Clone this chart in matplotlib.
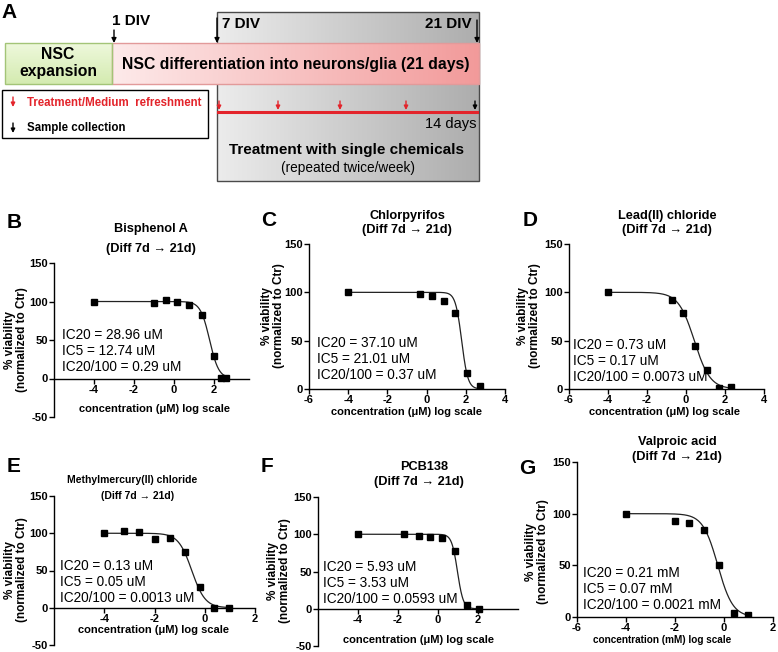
import numpy as np
import matplotlib
matplotlib.use('Agg')
from matplotlib import pyplot as plt
from matplotlib.patches import Rectangle
from matplotlib.colors import LinearSegmentedColormap

plt.rcParams['font.family'] = ['Liberation Sans', 'DejaVu Sans']
plt.rcParams['axes.unicode_minus'] = False

W, H = 778, 652

# ---- dose-response points (log10 conc, % viability)
bpa_x = [-4, -1.0, -0.42, 0.17, 0.75, 1.42, 2.0, 2.33, 2.58]
bpa_y = [100, 98, 102, 99.5, 95, 83, 29.5, 0.5, 0.5]
cpf_x = [-4, -0.35, 0.29, 0.87, 1.46, 2.08, 2.70]
cpf_y = [100, 98, 96, 91, 78.5, 17, 3]
pb_x = [-4, -0.73, -0.14, 0.48, 1.06, 1.70, 2.29]
pb_y = [100, 92, 79, 45, 19.5, 1, 2.5]
mehg_x = [-4, -3.23, -2.63, -2.0, -1.4, -0.8, -0.2, 0.37, 0.97]
mehg_y = [100, 103.5, 101.5, 92.5, 94, 75.5, 28.5, 0, 0]
pcb_x = [-4, -1.72, -0.97, -0.38, 0.2, 0.84, 1.46, 2.04]
pcb_y = [100, 100, 97, 96, 94.5, 78, 4.5, 0]
vpa_x = [-4, -2.0, -1.41, -0.81, -0.2, 0.41, 0.99]
vpa_y = [100, 93, 91, 84.5, 50.5, 4, 1.5]

names = ['Bisphenol A', 'Chlorpyrifos', 'Lead(II) chloride',
         'Methylmercury(II) chloride', 'PCB138', 'Valproic acid']
letters = ['B', 'C', 'D', 'E', 'F', 'G']
ic20 = [28.96, 37.10, 0.73, 0.13, 5.93, 0.21]
ic5 = [12.74, 21.01, 0.17, 0.05, 3.53, 0.07]
ic20_100 = ['0.29', '0.37', '0.0073', '0.0013', '0.0593', '0.0021']
units = ['uM', 'uM', 'uM', 'uM', 'uM', 'mM']
xdata = [bpa_x, cpf_x, pb_x, mehg_x, pcb_x, vpa_x]
ydata = [bpa_y, cpf_y, pb_y, mehg_y, pcb_y, vpa_y]

# treatment schedule markers in panel A (pixel x)
treat_x = [219, 278, 340, 406]
sample_x = [475]


def hill_curve(x, c20, c5):
    # 4-parameter logistic (top 100, bottom 0) that passes through IC20 and IC5
    lo20, lo5 = np.log10(c20), np.log10(c5)
    slope = np.log10(0.25 * 19) / (lo20 - lo5)
    logic50 = lo20 + np.log10(4) / slope
    return 100 / (1 + 10 ** (slope * (x - logic50)))


fig = plt.figure(figsize=(W / 100, H / 100), dpi=100)
canvas = fig.add_axes([0, 0, 1, 1], zorder=0)
canvas.set_xlim(0, W)
canvas.set_ylim(H, 0)
canvas.axis('off')


def gradient_box(l, t, r, b, c0, c1, edge, z, horizontal=True):
    cmap = LinearSegmentedColormap.from_list('g', [c0, c1])
    g = np.linspace(0, 1, 256)
    img = g[None, :] if horizontal else g[:, None]
    canvas.imshow(img, extent=(l, r, b, t), cmap=cmap, aspect='auto',
                  zorder=z, interpolation='bilinear')
    canvas.add_patch(Rectangle((l, t), r - l, b - t, fill=False,
                               edgecolor=edge, lw=1, zorder=z + 0.1))


def down_arrow(x, y0, y1, color, ms=7):
    canvas.annotate('', xy=(x, y1), xytext=(x, y0),
                    arrowprops=dict(arrowstyle='-|>', color=color, lw=1,
                                    mutation_scale=ms, shrinkA=0, shrinkB=0),
                    zorder=6)


# ---- panel A: timeline diagram
gradient_box(217, 12, 479, 181, '#ececec', '#adadad', '#4a4a4a', 1)
gradient_box(112, 43, 479, 84, '#fdeaea', '#f29a9a', '#e29a9a', 2)
gradient_box(5, 43, 112, 84, '#eef8dc', '#d4ebb0', '#a3c477', 2, horizontal=False)
canvas.add_patch(Rectangle((2, 90), 206, 48, facecolor='white',
                           edgecolor='black', lw=1, zorder=3))
canvas.set_xlim(0, W)
canvas.set_ylim(H, 0)

canvas.text(1, 3, 'A', fontsize=15, fontweight='bold', va='top', zorder=7)
canvas.text(58, 63, 'NSC\nexpansion', fontsize=11.3, fontweight='bold',
            ha='center', va='center', linespacing=1.1, zorder=7)
canvas.text(296, 65, 'NSC differentiation into neurons/glia (21 days)',
            fontsize=11.3, fontweight='bold', ha='center', va='center', zorder=7)
canvas.text(112, 28, '1 DIV', fontsize=11, fontweight='bold', va='bottom', zorder=7)
canvas.text(222, 31, '7 DIV', fontsize=11, fontweight='bold', va='bottom', zorder=7)
canvas.text(472, 31, '21 DIV', fontsize=11, fontweight='bold', va='bottom',
            ha='right', zorder=7)
down_arrow(114, 30, 43, 'black')
down_arrow(217, 18, 43, 'black')
down_arrow(477, 20, 43, 'black')

down_arrow(13, 97, 107, '#e3242b', ms=6)
canvas.text(27, 103, 'Treatment/Medium  refreshment', fontsize=8.3,
            fontweight='bold', color='#e3242b', va='center', zorder=7)
down_arrow(13, 123, 133, 'black', ms=6)
canvas.text(27, 128, 'Sample collection', fontsize=8.3, fontweight='bold',
            va='center', zorder=7)

canvas.plot([218, 477], [112, 112], color='#e3242b', lw=2.2, zorder=5)
for tx in treat_x:
    down_arrow(tx, 101, 110, '#e3242b', ms=6)
for sx in sample_x:
    down_arrow(sx, 101, 110, 'black', ms=6)
canvas.text(477, 124, '14 days', fontsize=10.5, ha='right', va='center', zorder=7)
canvas.text(347, 150, 'Treatment with single chemicals', fontsize=11,
            fontweight='bold', ha='center', va='center', zorder=7)
canvas.text(348, 168, '(repeated twice/week)', fontsize=9.8,
            ha='center', va='center', zorder=7)

# ---- layout of the six dose-response panels (pixel boxes: l, t, r, b)
boxes = [(54, 263, 249, 417), (309, 244, 505, 389), (569, 244, 764, 389),
         (54, 496, 255, 645), (318, 497, 518, 646), (577, 462, 773, 617)]
xlims = [(-6, 3.75), (-6, 4), (-6, 4), (-6, 2), (-6, 4), (-6, 2)]
ylims = [(-50, 150), (0, 150), (0, 150), (-50, 150), (-50, 150), (0, 150)]
xticks = [[-4, -2, 0, 2], [-6, -4, -2, 0, 2, 4], [-6, -4, -2, 0, 2, 4],
          [-4, -2, 0, 2], [-4, -2, 0, 2], [-6, -4, -2, 0, 2]]
title_pos = [((151, 229), (151, 249)), ((407, 216), (407, 230)),
             ((667, 216), (667, 230)), ((132, 480), (138, 496)),
             ((424, 467), (419, 482)), ((677, 442), (677, 457))]
title_size = [9.2, 9.2, 9.2, 7.5, 9.2, 9.2]
letter_pos = [(7, 222), (261, 221), (523, 221), (7, 466), (261, 467), (519, 469)]
ic_pos = [(62, 335), (317, 343), (573, 345), (60, 566), (323, 567), (583, 573)]
ylab_pos = [(16, 340), (273, 316), (529, 316), (16, 570), (279, 571), (537, 552)]
xlab_pos = [(155, 409), (407, 412), (665, 412), (154, 630), (419, 640), (662, 640)]
xlab_size = [8, 8, 8, 8, 8, 7.2]

for i in range(6):
    l, t, r, b = boxes[i]
    ax = fig.add_axes([l / W, 1 - b / H, (r - l) / W, (b - t) / H], zorder=2)
    ax.set_facecolor('none')
    xs = np.linspace(min(xdata[i]), max(xdata[i]), 400)
    ax.plot(xs, hill_curve(xs, ic20[i], ic5[i]), color='#222222', lw=0.9)
    ax.plot(xdata[i], ydata[i], 's', color='black', ms=4.8)
    ax.set_xlim(*xlims[i])
    ax.set_ylim(*ylims[i])
    ax.set_xticks(xticks[i])
    ax.set_yticks(np.arange(ylims[i][0], 151, 50))
    ax.spines[['top', 'right']].set_visible(False)
    if ylims[i][0] < 0:
        ax.spines['bottom'].set_position(('data', 0))
    for s in ('left', 'bottom'):
        ax.spines[s].set_linewidth(1)
    ax.tick_params(length=3.5, width=1, labelsize=8, pad=1)
    for lab in ax.get_xticklabels() + ax.get_yticklabels():
        lab.set_fontweight('bold')

    (x1, y1), (x2, y2) = title_pos[i]
    canvas.text(x1, y1, names[i], fontsize=title_size[i], fontweight='bold',
                ha='center', va='center')
    canvas.text(x2, y2, '(Diff 7d \u2192 21d)', fontsize=title_size[i],
                fontweight='bold', ha='center', va='center')
    canvas.text(*letter_pos[i], letters[i], fontsize=15, fontweight='bold',
                va='center')
    ix, iy = ic_pos[i]
    lines = ['IC20 = %.2f %s' % (ic20[i], units[i]),
             'IC5 = %.2f %s' % (ic5[i], units[i]),
             'IC20/100 = %s %s' % (ic20_100[i], units[i])]
    for k, line in enumerate(lines):
        canvas.text(ix, iy + 16 * k, line, fontsize=9.8, va='center', zorder=8)
    canvas.text(*ylab_pos[i], '% viability\n(normalized to Ctr)', fontsize=8.5,
                fontweight='bold', rotation=90, ha='center', va='center',
                linespacing=1.05)
    canvas.text(*xlab_pos[i], 'concentration (%s) log scale'
                % ('mM' if units[i] == 'mM' else '\u03bcM'),
                fontsize=xlab_size[i], fontweight='bold', ha='center', va='center')

fig.savefig('out.png', dpi=100)
